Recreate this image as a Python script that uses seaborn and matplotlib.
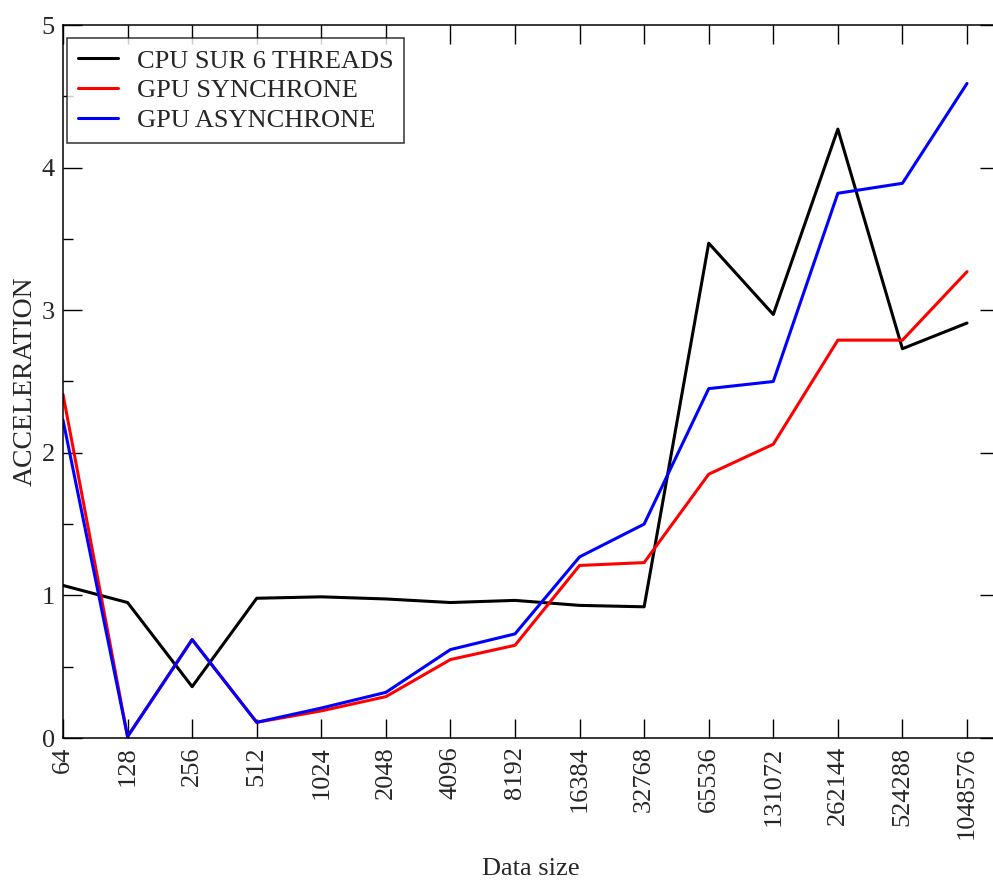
import numpy as np
import pandas as pd
import matplotlib
matplotlib.use("Agg")
import matplotlib.pyplot as plt
import seaborn as sns
from matplotlib.ticker import MultipleLocator

sizes = ["64", "128", "256", "512", "1024", "2048", "4096", "8192", "16384",
         "32768", "65536", "131072", "262144", "524288", "1048576"]
cpu = [1.07, 0.95, 0.36, 0.98, 0.99, 0.975, 0.95, 0.965, 0.93, 0.92,
       3.47, 2.97, 4.27, 2.73, 2.91]
gpu_sync = [2.41, 0.01, 0.69, 0.11, 0.19, 0.29, 0.55, 0.65, 1.21, 1.23,
            1.85, 2.06, 2.79, 2.79, 3.27]
gpu_async = [2.23, 0.01, 0.69, 0.11, 0.21, 0.32, 0.62, 0.73, 1.27, 1.50,
             2.45, 2.50, 3.82, 3.89, 4.59]
series_names = ["CPU SUR 6 THREADS", "GPU SYNCHRONE", "GPU ASYNCHRONE"]
colors = ["#000000", "#ff0000", "#0000ff"]

df = pd.DataFrame({
    "Data size": sizes * 3,
    "ACCELERATION": cpu + gpu_sync + gpu_async,
    "series": [series_names[0]] * len(sizes) + [series_names[1]] * len(sizes)
              + [series_names[2]] * len(sizes),
})

sns.set_style("ticks")
plt.rcParams["font.family"] = ["Liberation Serif", "DejaVu Serif"]

fig = plt.figure(figsize=(9.93, 8.8), dpi=100)
ax = fig.add_axes([63 / 993, 1 - 738 / 880, (999 - 63) / 993, (738 - 25) / 880])

sns.lineplot(data=df, x="Data size", y="ACCELERATION", hue="series",
             hue_order=series_names, palette=colors, sort=False,
             linewidth=2.2, ax=ax)

ax.set_xlim(0, 14 + 32 / 64.57)
ax.set_ylim(0, 5)
ax.yaxis.set_major_locator(MultipleLocator(1))
ax.yaxis.set_minor_locator(MultipleLocator(0.5))
ax.tick_params(axis="both", which="both", direction="in", top=True, right=True,
               labelsize=19, color="black", width=1.0)
ax.tick_params(axis="both", which="major", length=14, pad=6)
ax.tick_params(axis="both", which="minor", length=7)
ax.tick_params(axis="x", which="minor", bottom=False, top=False)
ax.tick_params(axis="y", which="minor", right=False)
plt.setp(ax.get_xticklabels(), rotation=90)
for s in ax.spines.values():
    s.set_linewidth(1.1)
    s.set_color("black")

ax.set_xlabel("Data size", fontsize=19, labelpad=14)
ax.set_ylabel("ACCELERATION", fontsize=20, labelpad=3)

leg = ax.legend(loc="upper left", bbox_to_anchor=(4 / 936, 1 - 13 / 713),
                fontsize=19, frameon=True, fancybox=False, handlelength=1.5,
                handletextpad=0.72, borderpad=0.42, labelspacing=0.24,
                borderaxespad=0)
leg.get_frame().set_edgecolor("black")
leg.get_frame().set_linewidth(1.1)
for line in leg.get_lines():
    line.set_linewidth(2.2)

fig.savefig("out.png", dpi=100)
